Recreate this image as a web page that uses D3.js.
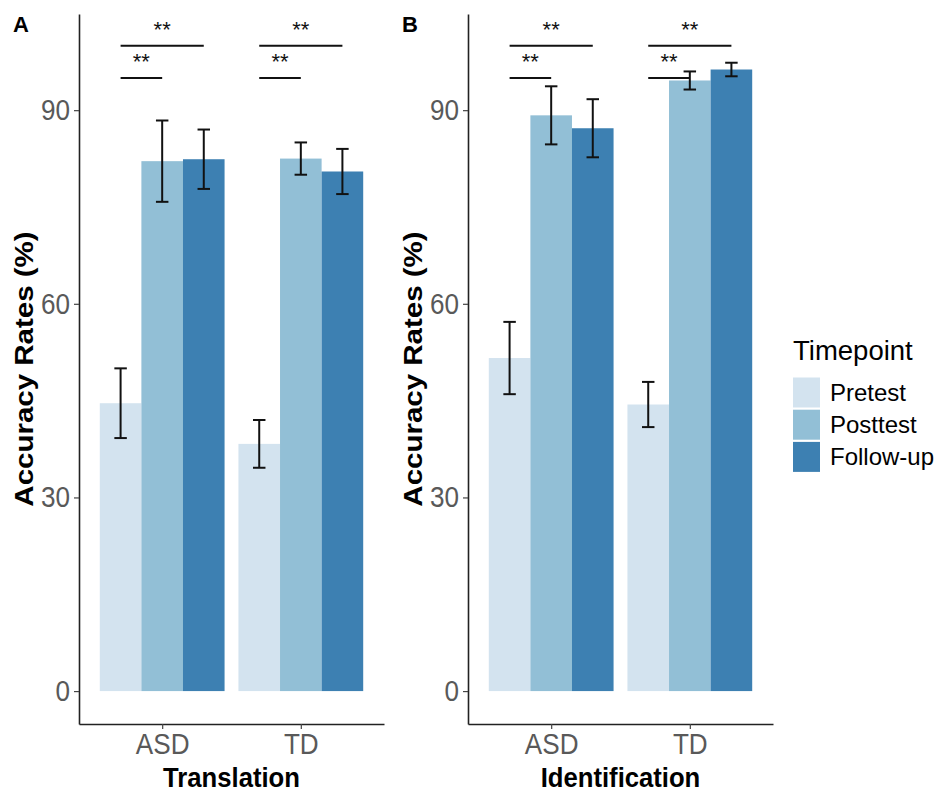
<!DOCTYPE html>
<html lang="en">
  <head>
    <meta charset="utf-8" />
    <title>Accuracy Rates</title>
    <script src="https://d3js.org/d3.v7.min.js"></script>
    <style type="text/css">
      body { margin: 0; background: #fff; }
      text { font-family: "Liberation Sans", Arial, Helvetica, sans-serif; }
    </style>
  </head>
  <body>
    <script type="text/javascript">
      // Data
      const groups = ['ASD', 'TD'];
      const timepoints = ['Pretest', 'Posttest', 'Follow-up'];
      const colours = ['#d3e3ef', '#92bfd6', '#3d80b2'];
      const yTicks = [0, 30, 60, 90];

      // means per group, in timepoint order
      const translationMeans = [[44.6, 82.1, 82.4], [38.3, 82.5, 80.5]];
      const translationErrors = [[5.4, 6.3, 4.6], [3.7, 2.5, 3.5]];
      const identificationMeans = [[51.6, 89.2, 87.2], [44.4, 94.6, 96.3]];
      const identificationErrors = [[5.6, 4.5, 4.5], [3.5, 1.4, 1.05]];

      // significance brackets: [from, to, height, label]
      const brackets = [
        ['Pretest', 'Posttest', 95, '**'],
        ['Pretest', 'Follow-up', 100, '**'],
      ];

      const w = 939;
      const h = 794;
      const plotTop = 14;
      const plotBottom = 724;
      const panelWidth = 305;
      const sx = 0.9; // the panels text is a bit narrow

      const svg = d3
        .select('body')
        .append('svg')
        .attr('width', w)
        .attr('height', h);

      const yScale = d3
        .scaleLinear()
        .domain([-5.1, 104.9])
        .range([plotBottom, plotTop]);

      const drawPanel = (x0, letter, title, means, errors) => {
        const g = svg.append('g');

        const xScale = d3
          .scalePoint()
          .domain(groups)
          .range([x0, x0 + panelWidth])
          .padding(0.6);
        const step = xScale.step();
        const inner = d3
          .scaleBand()
          .domain(timepoints)
          .range([-0.45 * step, 0.45 * step]);
        const bw = inner.bandwidth();

        const rows = [];
        groups.forEach((grp, gi) => {
          timepoints.forEach((tp, ti) => {
            rows.push({ grp, tp, ti, mean: means[gi][ti], err: errors[gi][ti] });
          });
        });

        // bars
        g.selectAll('rect.bar')
          .data(rows)
          .enter()
          .append('rect')
          .attr('class', 'bar')
          .attr('x', d => xScale(d.grp) + inner(d.tp))
          .attr('y', d => yScale(d.mean))
          .attr('width', bw)
          .attr('height', d => yScale(0) - yScale(d.mean))
          .attr('fill', d => colours[d.ti]);

        // error bars
        const cap = bw * 0.15;
        const eb = g
          .selectAll('g.err')
          .data(rows)
          .enter()
          .append('g')
          .attr('class', 'err')
          .attr('stroke', '#111')
          .attr('stroke-width', 2);
        const cx = d => xScale(d.grp) + inner(d.tp) + bw / 2;
        eb.append('line')
          .attr('x1', cx)
          .attr('x2', cx)
          .attr('y1', d => yScale(d.mean - d.err))
          .attr('y2', d => yScale(d.mean + d.err));
        eb.append('line')
          .attr('x1', d => cx(d) - cap)
          .attr('x2', d => cx(d) + cap)
          .attr('y1', d => yScale(d.mean + d.err))
          .attr('y2', d => yScale(d.mean + d.err));
        eb.append('line')
          .attr('x1', d => cx(d) - cap)
          .attr('x2', d => cx(d) + cap)
          .attr('y1', d => yScale(d.mean - d.err))
          .attr('y2', d => yScale(d.mean - d.err));

        // significance
        groups.forEach(grp => {
          brackets.forEach(b => {
            const xa = xScale(grp) + inner(b[0]) + bw / 2;
            const xb = xScale(grp) + inner(b[1]) + bw / 2;
            g.append('line')
              .attr('x1', xa)
              .attr('x2', xb)
              .attr('y1', yScale(b[2]))
              .attr('y2', yScale(b[2]))
              .attr('stroke', '#111')
              .attr('stroke-width', 2);
            g.append('text')
              .attr('x', (xa + xb) / 2)
              .attr('y', yScale(b[2]) - 9)
              .attr('text-anchor', 'middle')
              .style('font-size', '22px')
              .attr('fill', '#111')
              .text(b[3]);
          });
        });

        // axes
        const xAxis = d3.axisBottom(xScale).tickSize(5).tickSizeOuter(0).tickPadding(4);
        const yAxis = d3.axisLeft(yScale).tickValues(yTicks).tickSize(5).tickSizeOuter(0).tickPadding(4);

        const gx = g
          .append('g')
          .attr('transform', `translate(0, ${plotBottom})`)
          .call(xAxis);
        const gy = g
          .append('g')
          .attr('transform', `translate(${x0}, 0)`)
          .call(yAxis);

        [gx, gy].forEach(ax => {
          ax.select('.domain').attr('stroke', '#222').attr('stroke-width', 1.6);
          ax.selectAll('.tick line').attr('stroke', '#444').attr('stroke-width', 1.2);
          ax.selectAll('.tick text')
            .attr('fill', '#595959')
            .style('font-size', '29px')
            .style('font-family', '"Liberation Sans", Arial, sans-serif');
        });
        gx.selectAll('.tick text').attr('transform', `scale(${sx},1)`);
        gy.selectAll('.tick text')
          .attr('x', -9 / sx)
          .attr('transform', `scale(${sx},1)`);

        // axis titles
        g.append('text')
          .attr('transform', `translate(${x0 - 46}, ${(plotTop + plotBottom) / 2}) scale(${sx},1) rotate(-90)`)
          .attr('text-anchor', 'middle')
          .style('font-size', '29.5px')
          .style('font-weight', 'bold')
          .text('Accuracy Rates (%)');

        g.append('text')
          .attr('transform', `translate(${x0 + panelWidth / 2}, 787) scale(${sx},1)`)
          .attr('text-anchor', 'middle')
          .style('font-size', '28.5px')
          .style('font-weight', 'bold')
          .text(title);

        g.append('text')
          .attr('x', x0 - 66)
          .attr('y', 32)
          .style('font-size', '22px')
          .style('font-weight', 'bold')
          .text(letter);
      };

      drawPanel(79, 'A', 'Translation', translationMeans, translationErrors);
      drawPanel(468, 'B', 'Identification', identificationMeans, identificationErrors);

      // Legend
      const legend = svg.append('g').attr('transform', 'translate(793, 360)');
      legend
        .append('text')
        .attr('x', 0)
        .attr('y', 0)
        .style('font-size', '27.5px')
        .text('Timepoint');

      const items = legend
        .selectAll('g.item')
        .data(timepoints)
        .enter()
        .append('g')
        .attr('class', 'item')
        .attr('transform', (d, i) => `translate(0, ${17.5 + i * 32.2})`);
      items
        .append('rect')
        .attr('width', 27)
        .attr('height', 30)
        .attr('fill', (d, i) => colours[i]);
      items
        .append('text')
        .attr('x', 37)
        .attr('y', 15)
        .attr('dy', '0.35em')
        .style('font-size', '24px')
        .text(d => d);
    </script>
  </body>
</html>
